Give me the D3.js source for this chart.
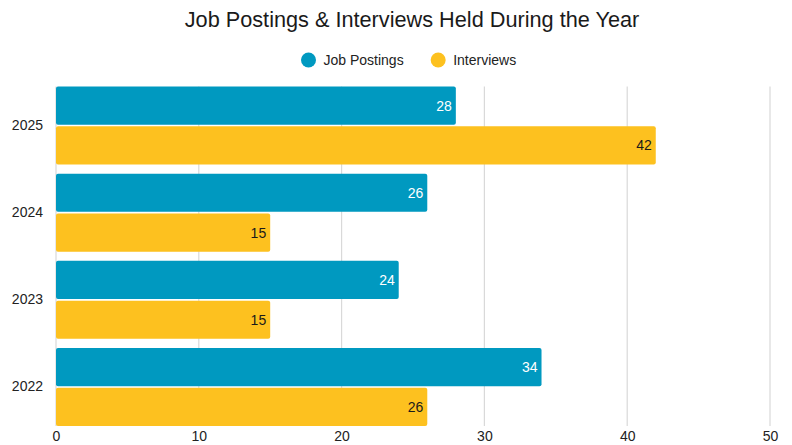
<!DOCTYPE html>
<html>
<head>
<meta charset="utf-8">
<script src="https://cdn.jsdelivr.net/npm/d3@7"></script>
<style>
  html, body { margin: 0; padding: 0; background: #fff; }
  svg { display: block; font-family: "Liberation Sans", Arial, sans-serif; }
</style>
</head>
<body>
<svg id="chart" width="792" height="445"></svg>
<script>
// Yearly hiring activity
const years = ["2025", "2024", "2023", "2022"];
const seriesNames = ["Job Postings", "Interviews"];
const jobPostings = [28, 26, 24, 34];
const interviews = [42, 15, 15, 26];
const xTicks = [0, 10, 20, 30, 40, 50];
const seriesColors = ["#0099c0", "#fdc11f"];
const labelColors = ["#ffffff", "#1a1a1a"];
const titleText = "Job Postings & Interviews Held During the Year";

const rows = years.map((y, i) => ({ year: y, values: [jobPostings[i], interviews[i]] }));

const svg = d3.select("#chart");
const plotLeft = 56, plotRight = 770, plotTop = 86.5, plotBottom = 426;

const x = d3.scaleLinear().domain([0, 50]).range([plotLeft, plotRight]);
const y = d3.scaleBand().domain(years).range([plotTop, plotBottom]).paddingInner(0.105).paddingOuter(0);
const ySub = d3.scaleBand().domain(d3.range(seriesNames.length)).range([0, y.bandwidth()]).paddingInner(0.04);

// Title
svg.append("text")
  .attr("x", 412)
  .attr("y", 27)
  .attr("text-anchor", "middle")
  .attr("font-size", 21.7)
  .attr("fill", "#1a1a1a")
  .text(titleText);

// Legend
const legendItems = seriesNames.map((name, i) => ({ name, color: seriesColors[i] }));
const legend = svg.append("g").attr("font-size", 14).attr("fill", "#222");
let lx = 0;
const legendGroups = legend.selectAll("g").data(legendItems).join("g");
legendGroups.append("circle").attr("r", 7.5).attr("cx", 7.5).attr("cy", 0).attr("fill", d => d.color);
legendGroups.append("text").attr("x", 22.5).attr("y", 5).text(d => d.name);
legendGroups.each(function () {
  const w = this.getBBox().width;
  d3.select(this).attr("transform", `translate(${lx},60)`);
  lx += w + 27;
});
legend.attr("transform", "translate(301,0)");

// Vertical gridlines
svg.append("g")
  .selectAll("line")
  .data(xTicks)
  .join("line")
  .attr("x1", d => x(d)).attr("x2", d => x(d))
  .attr("y1", plotTop).attr("y2", plotBottom)
  .attr("stroke", "#d9d9d9")
  .attr("stroke-width", 1.2);

// X axis labels
const xAxis = svg.append("g")
  .attr("transform", `translate(0,${plotBottom})`)
  .call(d3.axisBottom(x).tickValues(xTicks).tickSize(0).tickPadding(5));
xAxis.select(".domain").remove();
xAxis.selectAll("text").attr("font-size", 14).attr("fill", "#222").attr("font-family", "Liberation Sans, Arial, sans-serif");

// Y axis labels
const yAxis = svg.append("g")
  .attr("transform", `translate(${plotLeft},0)`)
  .call(d3.axisLeft(y).tickSize(0).tickPadding(13));
yAxis.select(".domain").remove();
yAxis.selectAll("text").attr("font-size", 14).attr("fill", "#222").attr("font-family", "Liberation Sans, Arial, sans-serif");

// Bars
const groups = svg.append("g")
  .selectAll("g")
  .data(rows)
  .join("g")
  .attr("transform", d => `translate(0,${y(d.year)})`);

const cells = groups.selectAll("g")
  .data(d => d.values.map((v, i) => ({ v, i })))
  .join("g");

cells.append("rect")
  .attr("x", x(0))
  .attr("y", d => ySub(d.i))
  .attr("width", d => x(d.v) - x(0))
  .attr("height", ySub.bandwidth())
  .attr("rx", 2)
  .attr("fill", d => seriesColors[d.i]);

cells.append("text")
  .attr("x", d => x(d.v) - 4)
  .attr("y", d => ySub(d.i) + ySub.bandwidth() / 2)
  .attr("dy", "0.36em")
  .attr("text-anchor", "end")
  .attr("font-size", 14)
  .attr("fill", d => labelColors[d.i])
  .text(d => d.v);
</script>
</body>
</html>
